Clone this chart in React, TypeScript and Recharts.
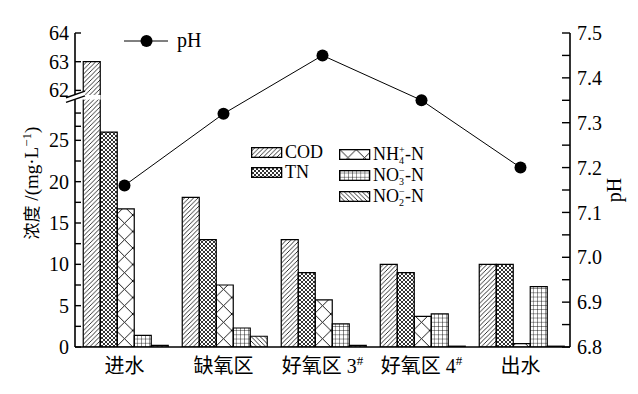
import React from 'react';
import { Bar, Cell, ComposedChart, Legend, Line, XAxis, YAxis } from 'recharts';

// sampling points along the treatment line
const stations = ['进水', '缺氧区', '好氧区 3#', '好氧区 4#', '出水'];

// concentrations, mg/L
const cod = [63, 18.1, 13.0, 10.0, 10.0];
const tn = [26.0, 13.0, 9.0, 9.0, 10.0];
const nh4 = [16.7, 7.5, 5.7, 3.7, 0.4];
const no3 = [1.4, 2.3, 2.8, 4.0, 7.3];
const no2 = [0.2, 1.3, 0.2, 0.1, 0.1];

// pH at each point
const ph = [7.16, 7.32, 7.45, 7.35, 7.2];

const lowerTicks = [0, 2.5, 5, 7.5, 10, 12.5, 15, 17.5, 20, 22.5, 25, 26.7, 28.3];
const upperTicks = [62, 63, 64];
const phTicks = [6.8, 6.85, 6.9, 6.95, 7.0, 7.05, 7.1, 7.15, 7.2, 7.25, 7.3, 7.35, 7.4, 7.45, 7.5];

const seriesKeys = ['cod', 'tn', 'nh4', 'no3', 'no2'];
const seriesNames = ['COD', 'TN', 'NH4+-N', 'NO3--N', 'NO2--N'];
const seriesPatterns = ['hatchCod', 'hatchTn', 'hatchNh4', 'hatchNo3', 'hatchNo2'];

const rows = stations.map((station, i) => ({
  station,
  cod: cod[i],
  tn: tn[i],
  nh4: nh4[i],
  no3: no3[i],
  no2: no2[i],
  ph: ph[i],
}));

const SERIF = "'Liberation Serif', 'Times New Roman', 'Noto Sans CJK SC', serif";
const W = 638;
const H = 394;
const AXIS = { stroke: '#000', strokeWidth: 1.6 };
const TICK_LINE = { stroke: '#000', strokeWidth: 1.4 };
const TICK_TEXT = { fill: '#000', fontSize: 20, fontFamily: SERIF };

const UPPER_MIN = 61.7;

function concLabel(v: number): string {
  return v % 5 === 0 ? String(v) : '';
}

function phLabel(v: number): string {
  return Math.round(v * 100) % 10 === 0 ? v.toFixed(1) : '';
}

/**
 * Hatch fills for the five series (same look as the printed figure).
 */
function HatchDefs() {
  return (
    <defs>
      <pattern id="hatchCod" patternUnits="userSpaceOnUse" width={4.5} height={4.5}>
        <path d="M0,4.5 L4.5,0 M-1,1 L1,-1 M3.5,5.5 L5.5,3.5" stroke="#000" strokeWidth={0.8} />
      </pattern>
      <pattern id="hatchTn" patternUnits="userSpaceOnUse" width={4} height={4}>
        <path d="M0,0 L4,4 M4,0 L0,4" stroke="#000" strokeWidth={0.8} />
      </pattern>
      <pattern id="hatchNh4" patternUnits="userSpaceOnUse" x={116.25} y={347} width={16.5} height={16.5}>
        <path d="M0,0 L16.5,16.5 M16.5,0 L0,16.5" stroke="#000" strokeWidth={0.9} />
      </pattern>
      <pattern id="hatchNo3" patternUnits="userSpaceOnUse" x={132.75} y={347} width={4.125} height={4.2}>
        <path d="M0,0 L0,4.2 M0,0 L4.125,0" stroke="#000" strokeWidth={0.8} />
      </pattern>
      <pattern id="hatchNo2" patternUnits="userSpaceOnUse" width={4.5} height={4.5}>
        <path d="M0,0 L4.5,4.5 M-1,3.5 L1,5.5 M3.5,-1 L5.5,1" stroke="#000" strokeWidth={0.8} />
      </pattern>
    </defs>
  );
}

function StationTick(props: any) {
  const { x, y, payload } = props;
  const label = String(payload.value);
  const hasSup = label.endsWith('#');
  const main = hasSup ? label.slice(0, -1) : label;
  return (
    <text x={x} y={y + 26} textAnchor="middle" fontSize={20} fontFamily={SERIF} fill="#000">
      {main}
      {hasSup && (
        <tspan dy={-8} fontSize={13}>
          #
        </tspan>
      )}
    </text>
  );
}

// legend label; ion names get a stacked charge / subscript like NH4+
function LegendText({ name, x, y }: { name: string; x: number; y: number }) {
  const m = name.match(/^([A-Z]+)(\d)([+-])-N$/);
  if (!m) {
    return (
      <text x={x} y={y} fontSize={18} fontFamily={SERIF} fill="#000">
        {name}
      </text>
    );
  }
  const charge = m[3] === '-' ? '−' : '+';
  return (
    <text x={x} y={y} fontSize={18} fontFamily={SERIF} fill="#000">
      {m[1]}
      <tspan fontSize={10} dy={-7}>
        {charge}
      </tspan>
      <tspan fontSize={10} dx={-5.6} dy={11}>
        {m[2]}
      </tspan>
      <tspan dx={1} dy={-4}>
        -N
      </tspan>
    </text>
  );
}

function BarLegend(props: any) {
  const { payload = [] } = props;
  const spots = [
    { x: 0, y: 1 },
    { x: 0, y: 21 },
    { x: 88, y: 3 },
    { x: 88, y: 24 },
    { x: 88, y: 45 },
  ];
  return (
    <svg width={170} height={70} style={{ display: 'block', overflow: 'visible' }}>
      {payload.map((entry: any, i: number) => {
        const idx = seriesKeys.indexOf(entry.dataKey);
        const spot = spots[idx] || spots[i];
        return (
          <g key={entry.dataKey} transform={`translate(${spot.x},${spot.y})`}>
            <rect x={0.65} y={0.65} width={30} height={9.7} fill={`url(#${seriesPatterns[idx]})`} stroke="#000" strokeWidth={1.3} />
            <LegendText name={seriesNames[idx]} x={34} y={11} />
          </g>
        );
      })}
    </svg>
  );
}

function PhLegend() {
  return (
    <div style={{ display: 'flex', alignItems: 'center', fontFamily: SERIF, fontSize: 20, color: '#000' }}>
      <svg width={48} height={22} style={{ display: 'block' }}>
        <line x1={2} y1={11} x2={46} y2={11} stroke="#000" strokeWidth={1} />
        <circle cx={24.5} cy={11} r={6} fill="#000" />
      </svg>
      <span style={{ marginLeft: 7 }}>pH</span>
    </div>
  );
}

const layer: React.CSSProperties = { position: 'absolute', left: 0, top: 0 };

export default function App() {
  return (
    <div style={{ position: 'absolute', left: 0, top: 0, width: W, height: H, background: '#fff', overflow: 'hidden' }}>
      {/* lower part of the broken concentration axis: 0 - 30 */}
      <div style={layer}>
        <ComposedChart
          width={W}
          height={H}
          data={rows}
          margin={{ top: 99, right: 68, bottom: 17, left: 0 }}
          barCategoryGap={8.25}
          barGap={0}
        >
          <HatchDefs />
          <XAxis
            dataKey="station"
            height={30}
            interval={0}
            tickSize={0}
            tickMargin={0}
            tickLine={false}
            axisLine={AXIS}
            tick={<StationTick />}
          />
          <YAxis
            yAxisId="conc"
            width={75}
            domain={[0, 30]}
            ticks={lowerTicks}
            interval={0}
            allowDataOverflow
            tickSize={-6}
            tickMargin={12}
            tickFormatter={concLabel}
            axisLine={AXIS}
            tickLine={TICK_LINE}
            tick={TICK_TEXT}
          />
          {seriesKeys.map((key, i) => (
            <Bar
              key={key}
              yAxisId="conc"
              dataKey={key}
              name={seriesNames[i]}
              fill={`url(#${seriesPatterns[i]})`}
              stroke="#000"
              strokeWidth={1.2}
              isAnimationActive={false}
            />
          ))}
          <Legend
            layout="vertical"
            align="center"
            verticalAlign="middle"
            wrapperStyle={{ left: 251, top: 146, width: 170, height: 70 }}
            content={<BarLegend />}
          />
        </ComposedChart>
      </div>

      {/* upper part of the broken axis: 62 - 64 */}
      <div style={layer}>
        <ComposedChart
          width={W}
          height={H}
          data={rows}
          margin={{ top: 33, right: 68, bottom: 295, left: 0 }}
          barCategoryGap={8.25}
          barGap={0}
        >
          <XAxis dataKey="station" hide />
          <YAxis
            yAxisId="hi"
            width={75}
            domain={[UPPER_MIN, 64]}
            ticks={upperTicks}
            interval={0}
            allowDataOverflow
            tickSize={-6}
            tickMargin={12}
            axisLine={AXIS}
            tickLine={TICK_LINE}
            tick={TICK_TEXT}
          />
          {seriesKeys.map((key, i) => (
            <Bar
              key={key}
              yAxisId="hi"
              dataKey={key}
              fill="none"
              stroke="none"
              isAnimationActive={false}
            >
              {rows.map((r: any, j) => {
                const show = key === 'cod' && r[key] > UPPER_MIN;
                return (
                  <Cell
                    key={j}
                    fill={show ? `url(#${seriesPatterns[i]})` : 'none'}
                    stroke={show ? '#000' : 'none'}
                    strokeWidth={1.2}
                  />
                );
              })}
            </Bar>
          ))}
        </ComposedChart>
      </div>

      {/* axis break marks and axis titles */}
      <svg width={W} height={H} style={layer}>
        <rect x={75.8} y={95} width={24.8} height={4.6} fill="#fff" />
        <polygon points="66,97.75 85,91.2 85,95.8 66,102.35" fill="#fff" />
        <line x1={66} y1={97.75} x2={85} y2={91.2} stroke="#000" strokeWidth={1.4} />
        <line x1={66} y1={102.35} x2={85} y2={95.8} stroke="#000" strokeWidth={1.4} />
        <text transform="translate(38,183) rotate(-90)" textAnchor="middle" fontFamily={SERIF} fontSize={19} fill="#000">
          <tspan fontSize={17}>浓度</tspan> /(mg·L
          <tspan dy={-7} fontSize={13}>
            −1
          </tspan>
          <tspan dy={7}>)</tspan>
        </text>
      </svg>

      {/* pH on the right axis */}
      <div style={layer}>
        <ComposedChart width={W} height={H} data={rows} margin={{ top: 33, right: 0, bottom: 47, left: 75 }}>
          <XAxis dataKey="station" hide scale="band" />
          <YAxis
            yAxisId="ph"
            orientation="right"
            width={68}
            domain={[6.8, 7.5]}
            ticks={phTicks}
            interval={0}
            tickSize={-8}
            tickMargin={15}
            tickFormatter={phLabel}
            axisLine={AXIS}
            tickLine={TICK_LINE}
            tick={TICK_TEXT}
            label={{ value: 'pH', angle: -90, position: 'center', fill: '#000', fontSize: 20, fontFamily: SERIF, dx: 10 }}
          />
          <Line
            yAxisId="ph"
            dataKey="ph"
            name="pH"
            stroke="#000"
            strokeWidth={1}
            dot={{ r: 6, fill: '#000', stroke: '#000', strokeWidth: 0 }}
            isAnimationActive={false}
          />
          <Legend
            layout="vertical"
            align="center"
            verticalAlign="middle"
            wrapperStyle={{ left: 122, top: 29, width: 100, height: 22 }}
            content={<PhLegend />}
          />
        </ComposedChart>
      </div>
    </div>
  );
}
